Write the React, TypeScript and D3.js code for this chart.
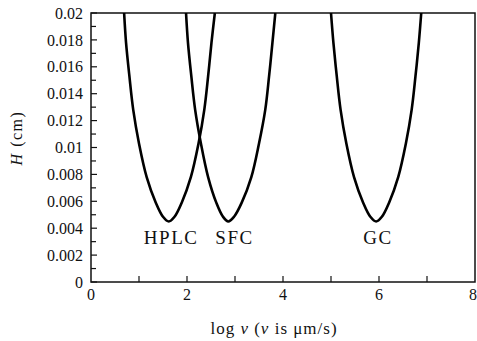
import React from "react";
import * as d3 from "d3";

const xTicks = [0, 2, 4, 6, 8];
const xMinor = [1, 3, 5, 7];
const yTicks = [0, 0.002, 0.004, 0.006, 0.008, 0.01, 0.012, 0.014, 0.016, 0.018, 0.02];
const yTickLabels = ["0", "0.002", "0.004", "0.006", "0.008", "0.01", "0.012", "0.014", "0.016", "0.018", "0.02"];
const yMinor = [0.001, 0.003, 0.005, 0.007, 0.009, 0.011, 0.013, 0.015, 0.017, 0.019];

const hplcX = [0.69, 0.73, 0.80, 0.88, 1.00, 1.16, 1.35, 1.50, 1.62, 1.74, 1.89, 2.08, 2.24, 2.36, 2.44, 2.51, 2.58];
const hplcH = [0.020, 0.0178, 0.0153, 0.0128, 0.0103, 0.0078, 0.0059, 0.00485, 0.0045, 0.00485, 0.0059, 0.0078, 0.0103, 0.0128, 0.0153, 0.0178, 0.020];
const sfcX = [1.98, 2.02, 2.09, 2.17, 2.29, 2.44, 2.61, 2.75, 2.86, 2.98, 3.14, 3.34, 3.50, 3.63, 3.71, 3.78, 3.84];
const sfcH = [0.020, 0.0178, 0.0153, 0.0128, 0.0103, 0.0078, 0.0059, 0.00485, 0.0045, 0.00485, 0.0059, 0.0078, 0.0103, 0.0128, 0.0153, 0.0178, 0.020];
const gcX = [5.00, 5.05, 5.12, 5.20, 5.32, 5.48, 5.67, 5.82, 5.94, 6.06, 6.21, 6.40, 6.56, 6.68, 6.76, 6.83, 6.88];
const gcH = [0.020, 0.0178, 0.0153, 0.0128, 0.0103, 0.0078, 0.0059, 0.00485, 0.0045, 0.00485, 0.0059, 0.0078, 0.0103, 0.0128, 0.0153, 0.0178, 0.020];

const curveNames = ["HPLC", "SFC", "GC"];
const labelX = [1.67, 2.99, 5.98];
const labelY = [0.0033, 0.0033, 0.0033];

export default function App() {
  const W = 477, H = 341;
  const left = 91, right = 475, top = 13, bottom = 282;
  const x = d3.scaleLinear().domain([0, 8]).range([left, right]);
  const y = d3.scaleLinear().domain([0, 0.02]).range([bottom, top]);
  const line = d3
    .line<[number, number]>()
    .x((d) => x(d[0]))
    .y((d) => y(d[1]))
    .curve(d3.curveCatmullRom.alpha(0.5));
  const series = [
    d3.zip(hplcX, hplcH) as [number, number][],
    d3.zip(sfcX, sfcH) as [number, number][],
    d3.zip(gcX, gcH) as [number, number][],
  ];
  const font = "'Liberation Serif', 'DejaVu Serif', serif";
  return (
    <svg width={W} height={H} style={{ position: "absolute", left: 0, top: 0, background: "#fff" }}>
      <defs>
        <clipPath id="plot">
          <rect x={left} y={top} width={right - left} height={bottom - top} />
        </clipPath>
      </defs>
      <rect x={0} y={0} width={W} height={H} fill="#fff" />
      <rect x={left} y={top} width={right - left} height={bottom - top} fill="none" stroke="#111" strokeWidth={1.5} />
      {yTicks.map((t, i) => (
        <g key={"yt" + i}>
          <line x1={left} x2={left + 6} y1={y(t)} y2={y(t)} stroke="#111" strokeWidth={1.2} />
          <text x={left - 8} y={y(t)} dy="0.35em" textAnchor="end" fontFamily={font} fontSize={16} fill="#111">
            {yTickLabels[i]}
          </text>
        </g>
      ))}
      {yMinor.map((t, i) => (
        <line key={"ym" + i} x1={left} x2={left + 5} y1={y(t)} y2={y(t)} stroke="#111" strokeWidth={1.2} />
      ))}
      {xTicks.map((t, i) => (
        <g key={"xt" + i}>
          {t > 0 && t < 8 && <line x1={x(t)} x2={x(t)} y1={bottom} y2={bottom - 6} stroke="#111" strokeWidth={1.2} />}
          <text x={t === 8 ? x(t) - 2 : x(t)} y={bottom + 18} textAnchor="middle" fontFamily={font} fontSize={16} fill="#111">
            {t}
          </text>
        </g>
      ))}
      {xMinor.map((t, i) => (
        <line key={"xm" + i} x1={x(t)} x2={x(t)} y1={bottom} y2={bottom - 6} stroke="#111" strokeWidth={1.2} />
      ))}
      <g clipPath="url(#plot)">
        {series.map((s, i) => (
          <path key={"c" + i} d={line(s) || ""} fill="none" stroke="#000" strokeWidth={2.6} />
        ))}
      </g>
      {curveNames.map((n, i) => (
        <text key={"l" + i} x={x(labelX[i])} y={y(labelY[i])} dy="0.35em" textAnchor="middle" fontFamily={font} fontSize={19} letterSpacing={1.5} fill="#111">
          {n}
        </text>
      ))}
      <text x={(left + right) / 2 - 9} y={334} textAnchor="middle" fontFamily={font} fontSize={17} letterSpacing={1} fill="#111">
        log <tspan fontStyle="italic">v</tspan> (<tspan fontStyle="italic">v</tspan> is μm/s)
      </text>
      <text transform={`translate(22,138) rotate(-90)`} textAnchor="middle" fontFamily={font} fontSize={16} letterSpacing={1.5} fill="#111">
        <tspan fontStyle="italic">H</tspan> (cm)
      </text>
    </svg>
  );
}
